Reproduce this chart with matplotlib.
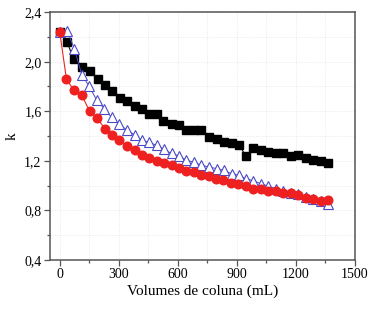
import numpy as np
import matplotlib
matplotlib.use("Agg")
import matplotlib.pyplot as plt
from matplotlib.ticker import MultipleLocator, FuncFormatter

# data
vol_sq = [0, 37, 71, 113, 153, 192, 229, 266, 305, 342, 380, 418, 454, 492, 525, 568,
          607, 641, 681, 720, 759, 797, 834, 873, 910, 946, 984, 1022, 1059, 1098, 1135,
          1173, 1211, 1251, 1288, 1325, 1364]
k_sq = [2.24, 2.16, 2.02, 1.955, 1.925, 1.86, 1.81, 1.76, 1.71, 1.685, 1.645, 1.615, 1.575,
        1.58, 1.52, 1.50, 1.49, 1.45, 1.45, 1.45, 1.395, 1.38, 1.355, 1.345, 1.33, 1.24,
        1.305, 1.29, 1.275, 1.265, 1.265, 1.24, 1.25, 1.225, 1.21, 1.20, 1.185]

vol_tri = [0, 39, 75, 112, 150, 188, 227, 264, 302, 341, 380, 417, 454, 492, 529, 568,
           607, 644, 681, 720, 759, 797, 834, 873, 910, 946, 984, 1022, 1059, 1098, 1135,
           1173, 1211, 1251, 1288, 1325, 1364]
k_tri = [2.24, 2.25, 2.10, 1.895, 1.80, 1.69, 1.62, 1.55, 1.495, 1.45, 1.41, 1.365, 1.35,
         1.325, 1.293, 1.26, 1.24, 1.205, 1.19, 1.165, 1.15, 1.138, 1.124, 1.097, 1.084,
         1.057, 1.04, 1.016, 0.997, 0.976, 0.96, 0.945, 0.93, 0.91, 0.89, 0.875, 0.855]

vol_ci = [0, 34, 71, 112, 152, 190, 229, 266, 303, 342, 380, 418, 454, 492, 529, 568,
          605, 641, 681, 718, 756, 793, 830, 869, 906, 944, 983, 1022, 1059, 1098, 1135,
          1173, 1211, 1251, 1288, 1325, 1364]
k_ci = [2.24, 1.86, 1.77, 1.73, 1.60, 1.545, 1.46, 1.41, 1.37, 1.32, 1.287, 1.247, 1.22,
        1.20, 1.18, 1.165, 1.14, 1.116, 1.111, 1.084, 1.076, 1.051, 1.049, 1.025, 1.017,
        0.995, 0.976, 0.976, 0.957, 0.954, 0.94, 0.94, 0.922, 0.903, 0.895, 0.876, 0.881]

plt.rcParams['font.family'] = ['Liberation Serif', 'DejaVu Serif']

fig = plt.figure(figsize=(3.78, 3.10), dpi=100)
ax = fig.add_axes([0.132, 0.161, 0.807, 0.800])

ax.plot(vol_sq, k_sq, color='black', lw=0.8, marker='s', ms=5.4, mfc='black', mec='black', zorder=3)
ax.plot(vol_tri, k_tri, color='#4a4ac8', lw=0.7, marker='^', ms=6.5, mfc='white', mec='#4a4ac8',
        mew=0.8, zorder=4)
ax.plot(vol_ci, k_ci, color='#ee2020', lw=0.8, marker='o', ms=6.2, mfc='#ee2020', mec='#ee2020', zorder=5)

ax.set_xlim(-50, 1500)
ax.set_ylim(0.4, 2.4)
ax.xaxis.set_major_locator(MultipleLocator(300))
ax.xaxis.set_minor_locator(MultipleLocator(150))
ax.yaxis.set_major_locator(MultipleLocator(0.4))
ax.yaxis.set_minor_locator(MultipleLocator(0.2))
ax.yaxis.set_major_formatter(FuncFormatter(lambda v, p: f"{v:.1f}".replace('.', ',')))

ax.grid(True, which='both', color='#e4e4e4', lw=0.6, ls=':')
ax.set_axisbelow(True)

for s in ax.spines.values():
    s.set_color('#555555')
    s.set_linewidth(1.1)
ax.tick_params(which='major', direction='out', length=4, width=0.9, color='#555555',
               labelsize=10, pad=2)
ax.tick_params(which='minor', direction='out', length=2.5, width=0.9, color='#555555')

ax.set_xlabel('Volumes de coluna (mL)', fontsize=11, labelpad=2)
ax.set_ylabel('k', fontsize=11, labelpad=4)

fig.savefig('out.png', dpi=100)
